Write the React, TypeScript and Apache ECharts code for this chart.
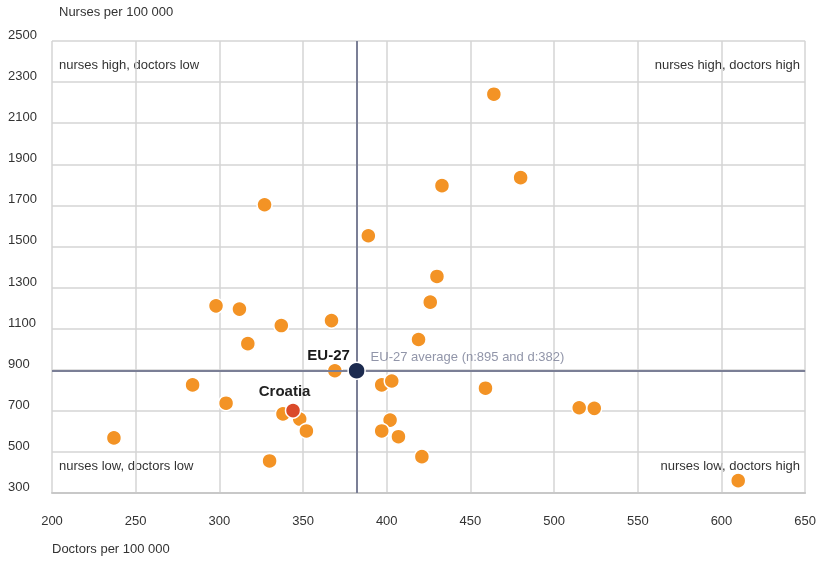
import React, { useEffect, useRef } from "react";
import * as echarts from "echarts";

const doctors = [464, 480, 433, 327, 389, 430, 426, 298, 312, 367, 337, 419, 317, 369, 284, 397, 403, 459, 304, 515, 524, 338, 348, 402, 352, 397, 407, 237, 421, 330, 610];
const nurses = [2241, 1835, 1796, 1703, 1552, 1354, 1229, 1211, 1195, 1139, 1115, 1047, 1027, 895, 826, 826, 845, 810, 737, 715, 712, 685, 660, 655, 602, 602, 574, 568, 477, 456, 360];
const croatia = { name: "Croatia", doctors: 344, nurses: 701 };
const eu27 = { name: "EU-27", doctors: 382, nurses: 895 };
const avgLabel = "EU-27 average (n:895 and d:382)";
const quadrantLabels = ["nurses high, doctors low", "nurses high, doctors high", "nurses low, doctors low", "nurses low, doctors high"];
const yTitle = "Nurses per 100 000";
const xTitle = "Doctors per 100 000";

const FONT = "'Liberation Sans', Arial, sans-serif";
const FS = 13;

export default function App() {
  const ref = useRef<HTMLDivElement>(null);
  useEffect(() => {
    if (!ref.current) return;
    const chart = echarts.init(ref.current, null, { renderer: "svg" });
    const textStyleBase = { fontFamily: FONT, fontSize: FS, fill: "#333" };
    chart.setOption({
      animation: false,
      textStyle: { fontFamily: FONT },
      grid: { left: 52, right: 11, top: 41, bottom: 70, containLabel: false },
      xAxis: {
        type: "value",
        min: 200,
        max: 650,
        interval: 50,
        axisLine: { show: true, lineStyle: { color: "#c8c8c8", width: 2 } },
        axisTick: { show: false },
        splitLine: { show: true, lineStyle: { color: "#d4d4d4", width: 1.5 } },
        axisLabel: { color: "#333", fontFamily: FONT, fontSize: FS, margin: 21, showMinLabel: true, showMaxLabel: true, formatter: (v: number) => String(v) },
      },
      yAxis: {
        type: "value",
        min: 300,
        max: 2500,
        interval: 200,
        axisLine: { show: false },
        axisTick: { show: false },
        splitLine: { show: true, lineStyle: { color: "#d4d4d4", width: 1.5 } },
        axisLabel: { color: "#333", fontFamily: FONT, fontSize: FS, margin: 44, align: "left", verticalAlign: "bottom", formatter: (v: number) => String(v) },
      },
      graphic: [
        { type: "text", left: 59, top: 5, style: { ...textStyleBase, text: yTitle } },
        { type: "text", left: 52, top: 542, style: { ...textStyleBase, text: xTitle } },
        { type: "text", left: 59, top: 58, style: { ...textStyleBase, text: quadrantLabels[0] } },
        { type: "text", right: 19, top: 58, style: { ...textStyleBase, text: quadrantLabels[1] } },
        { type: "text", left: 59, top: 459, style: { ...textStyleBase, text: quadrantLabels[2] } },
        { type: "text", right: 19, top: 459, style: { ...textStyleBase, text: quadrantLabels[3] } },
      ],
      series: [
        {
          type: "scatter",
          name: "Countries",
          symbolSize: 15,
          itemStyle: { color: "#f39325", borderColor: "#fff", borderWidth: 1.5, opacity: 1 },
          data: doctors.map((d, i) => [d, nurses[i]]),
          z: 3,
          markLine: {
            silent: true,
            symbol: "none",
            label: { show: false },
            lineStyle: { color: "#7b7f96", width: 2, type: "solid" },
            data: [{ yAxis: eu27.nurses }, { xAxis: eu27.doctors }],
          },
        },
        {
          type: "scatter",
          name: croatia.name,
          symbolSize: 15,
          itemStyle: { color: "#da4a2a", borderColor: "#fff", borderWidth: 1.5, opacity: 1 },
          data: [[croatia.doctors, croatia.nurses]],
          z: 4,
          label: {
            show: true,
            formatter: croatia.name,
            position: [-26, -19],
            fontFamily: FONT,
            fontWeight: "bold",
            fontSize: 15,
            color: "#222",
          },
        },
        {
          type: "scatter",
          name: "avg",
          symbolSize: 2,
          silent: true,
          itemStyle: { color: "rgba(0,0,0,0)" },
          data: [[eu27.doctors, eu27.nurses]],
          z: 5,
          label: {
            show: true,
            formatter: avgLabel,
            position: [15, -20],
            fontFamily: FONT,
            fontSize: FS,
            color: "#767a93",
          },
        },
        {
          type: "scatter",
          name: eu27.name,
          symbolSize: 17,
          itemStyle: { color: "#1c2b4f", borderColor: "#fff", borderWidth: 1.5, opacity: 1 },
          data: [[eu27.doctors, eu27.nurses]],
          z: 6,
          label: {
            show: true,
            formatter: eu27.name,
            position: [-40, -15],
            fontFamily: FONT,
            fontWeight: "bold",
            fontSize: 15,
            color: "#1a1a1a",
          },
        },
      ],
    });
    return () => chart.dispose();
  }, []);
  return <div ref={ref} style={{ position: "fixed", left: 0, top: 0, width: 819, height: 563 }} />;
}
